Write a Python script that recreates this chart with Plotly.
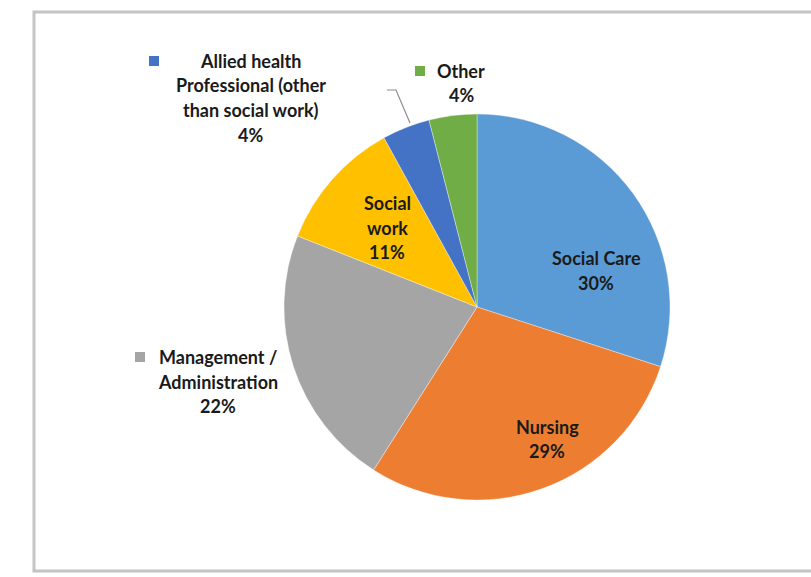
import plotly.graph_objects as go

# Staff groups, share of workforce (%)
categories = ["Social Care", "Nursing", "Management / Administration", "Social work",
              "Allied health Professional (other than social work)", "Other"]
values = [30, 29, 22, 11, 4, 4]
colors = ["#5B9BD5", "#ED7D31", "#A5A5A5", "#FFC000", "#4472C4", "#70AD47"]

# How each category name is broken over lines in its data label
label_lines = [
    ["Social Care"],
    ["Nursing"],
    ["Management /", "Administration"],
    ["Social", "work"],
    ["Allied health", "Professional (other", "than social work)"],
    ["Other"],
]

W, H = 811, 577


def px(x):
    return x / W


def py(y):
    return 1 - y / H


# Pie placement (pixels): centre and radius
cx, cy, r = 477, 307, 193

fig = go.Figure(go.Pie(
    labels=categories,
    values=values,
    marker=dict(colors=colors, line=dict(color="rgba(255,255,255,0.6)", width=0.6)),
    sort=False,
    direction="clockwise",
    rotation=0,
    textinfo="none",
    hoverinfo="label+percent",
    domain=dict(x=[px(cx - r), px(cx + r)], y=[py(cy + r), py(cy - r)]),
))

# Label anchor: (centre x, first line y, legend-key x or None)
label_pos = [
    (596, 258, None),
    (547, 427, None),
    (218, 357, 140),
    (387, 203, None),
    (251, 61, 154),
    (461, 71, 420),
]
LINE_STEP = 24.5

annotations = []
shapes = []
font = dict(family="Lato, 'Open Sans', sans-serif", size=18, color="#1a1a1a", weight="bold")
for lines, val, col, (lx, ly, kx) in zip(label_lines, values, colors, label_pos):
    for i, t in enumerate(lines + [f"{val}%"]):
        annotations.append(dict(
            x=px(lx), y=py(ly + i * LINE_STEP), xref="paper", yref="paper",
            text=t, showarrow=False, xanchor="center", yanchor="middle", font=font,
        ))
    if kx is not None:
        s = 5
        shapes.append(dict(type="rect", xref="paper", yref="paper",
                           x0=px(kx - s), x1=px(kx + s), y0=py(ly + s), y1=py(ly - s),
                           fillcolor=col, line=dict(width=0)))

# Leader line from the Allied health label to its slice
leader = [(387, 90), (396, 90), (410, 123)]
path = "M " + " L ".join(f"{px(x)},{py(y)}" for x, y in leader)
shapes.append(dict(type="path", xref="paper", yref="paper", path=path,
                   line=dict(color="#8c8c8c", width=1.2)))

# Chart frame
shapes.append(dict(type="rect", xref="paper", yref="paper",
                   x0=px(34), x1=px(830), y0=py(571), y1=py(12),
                   line=dict(color="#c4c4c4", width=3), fillcolor="rgba(0,0,0,0)",
                   layer="below"))

fig.update_layout(
    width=W, height=H,
    margin=dict(l=0, r=0, t=0, b=0),
    paper_bgcolor="white",
    plot_bgcolor="white",
    showlegend=False,
    annotations=annotations,
    shapes=shapes,
)

fig.write_html("out.html")
